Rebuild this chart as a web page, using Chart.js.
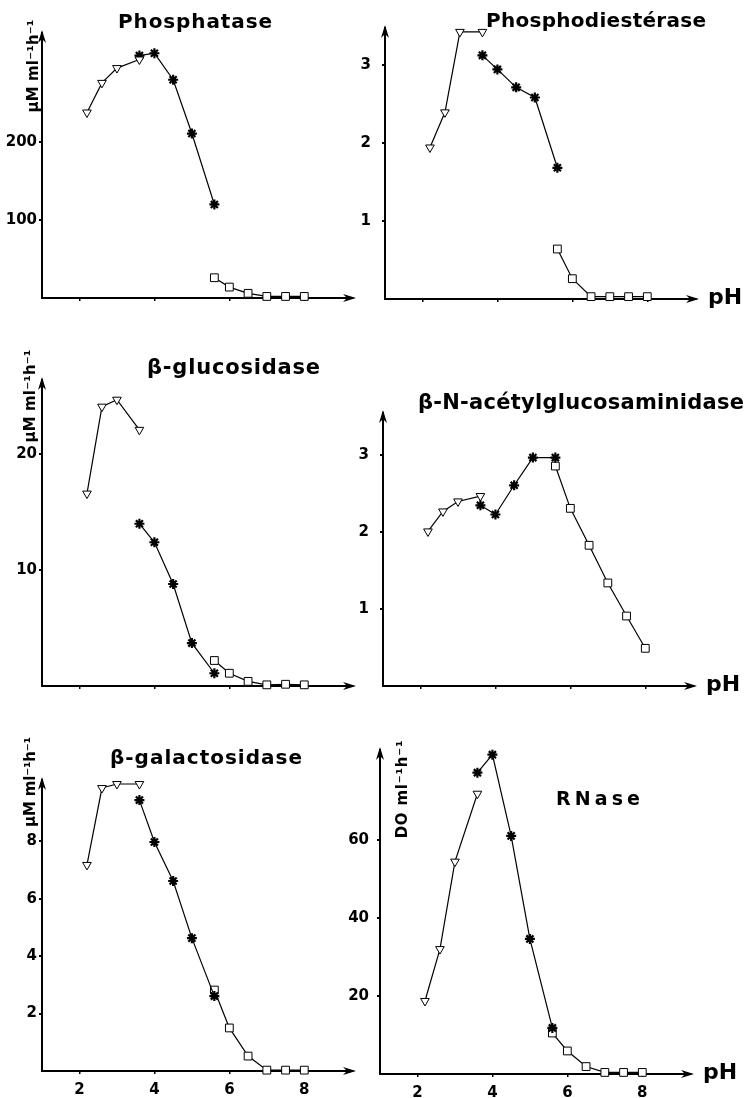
<!DOCTYPE html>
<html>
<head>
<meta charset="utf-8">
<script src="https://cdn.jsdelivr.net/npm/chart.js@4.4.1/dist/chart.umd.min.js"></script>
<style>
  html, body { margin: 0; padding: 0; background: #fff; }
  body { width: 746px; height: 1098px; position: relative; overflow: hidden; }
  canvas { position: absolute; }
</style>
</head>
<body>
<canvas id="c1"></canvas>
<canvas id="c2"></canvas>
<canvas id="c3"></canvas>
<canvas id="c4"></canvas>
<canvas id="c5"></canvas>
<canvas id="c6"></canvas>
<script>
// pH of the three buffer series (triangles, stars, squares)
const phTri  = [2.2, 2.6, 3.0, 3.6]
const phStar = [3.6, 4.0, 4.5, 5.0, 5.6]
const phSq   = [5.6, 6.0, 6.5, 7.0, 7.5, 8.0]
const xTicks = [2, 4, 6, 8]

// Phosphatase
const phosTri   = [238, 276, 295, 306]
const phosStar  = [311, 314, 280, 211, 120]
const phosSq    = [26, 14, 6, 2, 2, 2]
const phosTicks = [100, 200]

// Phosphodiestérase
const pdeTri   = [1.94, 2.39, 3.42, 3.42]
const pdeStar  = [3.12, 2.94, 2.71, 2.58, 1.68]
const pdeSq    = [0.64, 0.26, 0.03, 0.03, 0.03, 0.03]
const pdeTicks = [1, 2, 3]

// β-glucosidase
const glucTri   = [16.6, 24.1, 24.7, 22.1]
const glucStar  = [14.0, 12.4, 8.8, 3.7, 1.1]
const glucSq    = [2.2, 1.1, 0.4, 0.1, 0.15, 0.1]
const glucTicks = [10, 20]

// β-N-acétylglucosaminidase
const nagTri   = [2.01, 2.27, 2.40, 2.47]
const nagStar  = [2.35, 2.23, 2.61, 2.97, 2.97]
const nagSq    = [2.86, 2.31, 1.83, 1.34, 0.91, 0.49]
const nagTicks = [1, 2, 3]

// β-galactosidase
const galTri   = [7.18, 9.86, 10.0, 10.0]
const galStar  = [9.44, 7.98, 6.62, 4.63, 2.61]
const galSq    = [2.82, 1.5, 0.52, 0.03, 0.03, 0.03]
const galTicks = [2, 4, 6, 8]

// RNase
const rnTri   = [18.7, 32, 54.4, 71.8]
const rnStar  = [77.2, 81.8, 61, 34.6, 11.8]
const rnSq    = [10.5, 5.9, 1.9, 0.4, 0.4, 0.4]
const rnTicks = [20, 40, 60]

const UNIT = 'μM ml⁻¹h⁻¹'

// ── panel layout ─────────────────────────────────────────────
const panels = [
  { id: 'c1', x: 0,   y: 0,   w: 373, h: 320, tri: phosTri, star: phosStar, sq: phosSq, ticks: phosTicks, yMax: 340,
    wy: 42, top: 33, right: 20, hx: 22, tpad: 2, xLab: false, ph: false,
    title: { text: 'Phosphatase', x: 118, base: 28, w: 154, size: 20 },
    ytitle: { text: UNIT, cx: 34, cy: 66, w: 93 } },
  { id: 'c2', x: 340, y: 0,   w: 406, h: 320, tri: pdeTri, star: pdeStar, sq: pdeSq, ticks: pdeTicks, yMax: 3.47,
    wy: 45, top: 28, right: 50, hx: 21, tpad: 11, xLab: false, ph: true,
    title: { text: 'Phosphodiestérase', x: 486, base: 27, w: 220, size: 20 } },
  { id: 'c3', x: 0,   y: 320, w: 373, h: 390, tri: glucTri, star: glucStar, sq: glucSq, ticks: glucTicks, yMax: 26.4,
    wy: 42, top: 60, right: 20, hx: 24, tpad: 2, xLab: false, ph: false,
    title: { text: 'β-glucosidase', x: 147, base: 374, w: 173, size: 21 },
    ytitle: { text: UNIT, cx: 31, cy: 396, w: 93 } },
  { id: 'c4', x: 340, y: 320, w: 406, h: 390, tri: nagTri, star: nagStar, sq: nagSq, ticks: nagTicks, yMax: 3.55,
    wy: 43, top: 93, right: 52, hx: 24, tpad: 11, xLab: false, ph: true,
    title: { text: 'β-N-acétylglucosaminidase', x: 418, base: 409, w: 326, size: 21 } },
  { id: 'c5', x: 0,   y: 710, w: 373, h: 388, tri: galTri, star: galStar, sq: galSq, ticks: galTicks, yMax: 10.14,
    wy: 42, top: 70, right: 20, hx: 27, tpad: 2, xLab: true, ph: false,
    title: { text: 'β-galactosidase', x: 110, base: 764, w: 192, size: 20 },
    ytitle: { text: UNIT, cx: 31, cy: 782, w: 90 } },
  { id: 'c6', x: 340, y: 710, w: 406, h: 388, tri: rnTri, star: rnStar, sq: rnSq, ticks: rnTicks, yMax: 83,
    wy: 40, top: 40, right: 55, hx: 24, tpad: 8, xLab: true, ph: true,
    title: { text: 'RNase', x: 556, base: 805, w: 84, size: 19 },
    ytitle: { text: 'DO ml⁻¹h⁻¹', cx: 403, cy: 789, w: 98 } },
]

// draw text stretched to a given width with letter spacing
function fitText(ctx, text, x, y, w, font) {
  ctx.font = font
  ctx.letterSpacing = '0px'
  const w0 = ctx.measureText(text).width
  const sp = text.length > 1 ? (w - w0) / (text.length - 1) : 0
  ctx.letterSpacing = sp.toFixed(2) + 'px'
  ctx.fillText(text, x, y)
  ctx.letterSpacing = '0px'
}

// ── arrows, titles, pH label ─────────────────────────────────
const decor = {
  id: 'decor',
  afterDraw(chart, args, o) {
    const { ctx, chartArea: a } = chart
    ctx.save()
    ctx.fillStyle = '#000'
    ctx.beginPath()
    ctx.moveTo(a.right + 3, a.bottom)
    ctx.lineTo(a.right - 10, a.bottom - 4)
    ctx.lineTo(a.right - 6, a.bottom)
    ctx.lineTo(a.right - 10, a.bottom + 4)
    ctx.closePath(); ctx.fill()
    ctx.beginPath()
    ctx.moveTo(a.left, a.top - 3)
    ctx.lineTo(a.left - 4, a.top + 10)
    ctx.lineTo(a.left, a.top + 6)
    ctx.lineTo(a.left + 4, a.top + 10)
    ctx.closePath(); ctx.fill()

    const t = o.title
    ctx.textAlign = 'left'; ctx.textBaseline = 'alphabetic'
    fitText(ctx, t.text, t.x - o.ox, t.base - o.oy, t.w, `bold ${t.size}px "DejaVu Sans"`)

    if (o.ph) {
      ctx.textBaseline = 'middle'
      ctx.font = 'bold 22px "DejaVu Sans"'
      ctx.fillText('pH', a.right + 12, a.bottom - 1)
    }

    const yt = o.ytitle
    if (yt) {
      ctx.translate(yt.cx - o.ox, yt.cy - o.oy)
      ctx.rotate(-Math.PI / 2)
      ctx.textAlign = 'center'; ctx.textBaseline = 'middle'
      fitText(ctx, yt.text, 0, 0, yt.w, 'bold 15px "DejaVu Sans"')
    }
    ctx.restore()
  },
}

const tickFont = { family: 'DejaVu Sans', weight: 'bold', size: 15 }

function series(xs, ys, style) {
  const star = style === 'star'
  return {
    data: xs.map((x, i) => ({ x, y: ys[i] })),
    borderColor: '#000',
    borderWidth: 1.2,
    pointStyle: style,
    pointRotation: style === 'triangle' ? 180 : 0,
    pointRadius: style === 'rect' ? 5.5 : style === 'triangle' ? 5 : 5,
    pointBorderWidth: star ? 2.2 : 1,
    pointBorderColor: '#000',
    pointBackgroundColor: '#fff',
    fill: false,
    tension: 0,
    clip: false,
  }
}

panels.forEach(p => {
  const cv = document.getElementById(p.id)
  cv.width = p.w; cv.height = p.h
  cv.style.left = p.x + 'px'; cv.style.top = p.y + 'px'

  new Chart(cv, {
    type: 'line',
    data: { datasets: [
      series(phTri, p.tri, 'triangle'),
      series(phStar, p.star, 'star'),
      series(phSq, p.sq, 'rect'),
    ] },
    options: {
      responsive: false, animation: false, events: [],
      layout: { padding: { top: p.top, right: p.right, left: 0, bottom: 0 } },
      scales: {
        x: {
          type: 'linear', min: 1, max: 9.3,
          afterBuildTicks: s => { s.ticks = xTicks.map(v => ({ value: v })) },
          afterFit: s => { s.height = p.hx },
          border: { display: true, color: '#000', width: 2 },
          grid: { drawOnChartArea: false, drawTicks: true, tickLength: 3, color: '#000', lineWidth: 1.5 },
          ticks: { display: p.xLab, padding: 7, color: '#000', font: tickFont, maxRotation: 0 },
        },
        y: {
          type: 'linear', min: 0, max: p.yMax,
          afterBuildTicks: s => { s.ticks = p.ticks.map(v => ({ value: v })) },
          afterFit: s => { s.width = p.wy },
          border: { display: true, color: '#000', width: 2 },
          grid: { drawOnChartArea: false, drawTicks: true, tickLength: 3, color: '#000', lineWidth: 2 },
          ticks: { padding: p.tpad, color: '#000', font: tickFont },
        },
      },
      plugins: {
        legend: { display: false },
        tooltip: { enabled: false },
        decor: { title: p.title, ytitle: p.ytitle, ph: p.ph, ox: p.x, oy: p.y },
      },
    },
    plugins: [decor],
  })
})
</script>
</body>
</html>
